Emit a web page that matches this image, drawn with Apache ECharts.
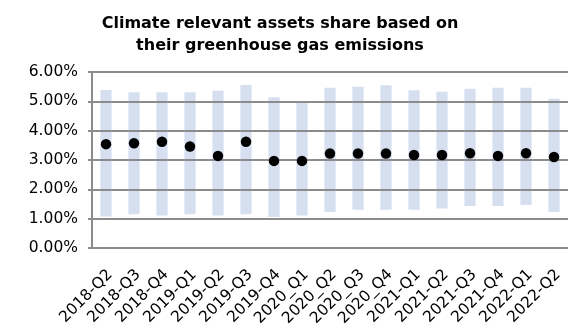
<!DOCTYPE html>
<html>
<head>
<meta charset="utf-8">
<script src="https://cdn.jsdelivr.net/npm/echarts@6/dist/echarts.min.js"></script>
<style>
  html, body { margin: 0; padding: 0; background: #ffffff; }
  #chart { width: 568px; height: 329px; }
</style>
</head>
<body>
<div id="chart"></div>
<script>
// Quarterly categories
var quarters = ['2018-Q2', '2018-Q3', '2018-Q4', '2019-Q1', '2019-Q2', '2019-Q3', '2019-Q4',
  '2020_Q1', '2020_Q2', '2020_Q3', '2020_Q4', '2021-Q1', '2021-Q2', '2021-Q3', '2021-Q4',
  '2022-Q1', '2022-Q2'];
// Range of the share across institutions (percent)
var lowValues  = [1.07, 1.15, 1.11, 1.15, 1.11, 1.15, 1.06, 1.11, 1.23, 1.30, 1.30, 1.30, 1.35, 1.43, 1.43, 1.47, 1.23];
var highValues = [5.39, 5.31, 5.31, 5.31, 5.36, 5.56, 5.14, 4.94, 5.46, 5.50, 5.55, 5.38, 5.33, 5.43, 5.46, 5.46, 5.09];
// Central value (percent)
var midValues  = [3.54, 3.57, 3.62, 3.46, 3.14, 3.62, 2.97, 2.97, 3.22, 3.22, 3.22, 3.17, 3.17, 3.23, 3.14, 3.23, 3.10];
// Y-axis ticks (percent)
var yTicks = { min: 0, max: 6, step: 1 };

// Invisible base + visible span gives a floating bar from low to high
var rangeSpan = highValues.map(function (h, i) { return +(h - lowValues[i]).toFixed(4); });

var chart = echarts.init(document.getElementById('chart'), null, { renderer: 'canvas' });
var labelFont = 'DejaVu Sans';
var axisGray = '#8c8c8c';
chart.setOption({
  animation: false,
  title: {
    text: 'Climate relevant assets share based on\ntheir greenhouse gas emissions',
    left: 275,
    textAlign: 'center',
    top: 8,
    textStyle: { fontFamily: 'DejaVu Sans', fontWeight: 'bold', fontSize: 16, lineHeight: 22, color: '#000' }
  },
  grid: { left: 92, right: -2, top: 72, bottom: 79.5, containLabel: false },
  xAxis: {
    type: 'category',
    data: quarters,
    boundaryGap: true,
    axisLine: { lineStyle: { color: axisGray, width: 2 } },
    axisTick: { alignWithLabel: false, length: 5, lineStyle: { color: axisGray, width: 2 } },
    axisLabel: {
      rotate: 45, interval: 0, margin: 20, verticalAlign: 'top', lineHeight: 12,
      fontFamily: labelFont, fontSize: 15.5, color: '#000'
    }
  },
  yAxis: {
    type: 'value',
    min: yTicks.min, max: yTicks.max, interval: yTicks.step,
    z: 3,
    axisLine: { show: true, lineStyle: { color: axisGray, width: 2 } },
    axisTick: { show: true, length: 4, lineStyle: { color: axisGray, width: 2 } },
    splitLine: { show: true, lineStyle: { color: axisGray, width: 2 } },
    axisLabel: {
      margin: 14, fontFamily: labelFont, fontSize: 15.5, color: '#000',
      formatter: function (v) { return v.toFixed(2) + '%'; }
    }
  },
  series: [
    {
      type: 'bar', stack: 'range', data: lowValues, barWidth: '40%',
      itemStyle: { color: 'transparent' }, silent: true, z: 1
    },
    {
      type: 'bar', stack: 'range', data: rangeSpan, barWidth: '40%',
      itemStyle: { color: '#d5dfef' }, z: 1
    },
    {
      type: 'scatter', data: midValues, symbol: 'circle', symbolSize: 10.5,
      itemStyle: { color: '#000', opacity: 1 }, z: 5
    }
  ]
});
</script>
</body>
</html>
